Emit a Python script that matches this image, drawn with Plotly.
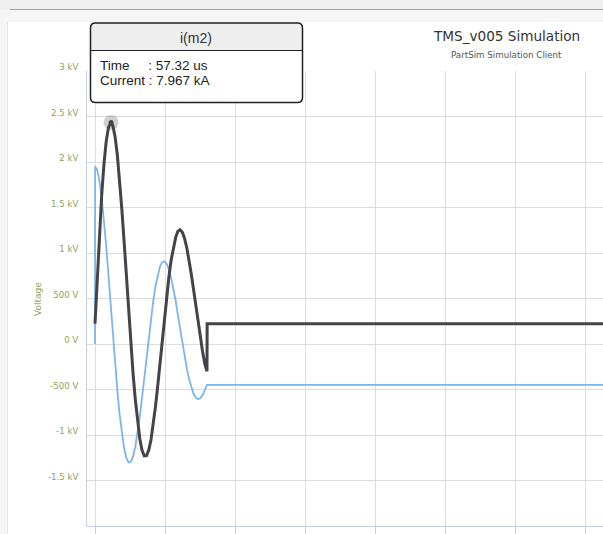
import plotly.graph_objects as go

# ---------------- data ----------------
t_voltage_us = [0, 0.5, 8, 16, 24, 32, 40, 48, 56, 64, 72, 80, 88, 96, 104, 112, 120, 128,
                136, 144, 152, 160, 168, 176, 184, 192, 200, 208, 216, 224, 232, 240, 248,
                256, 264, 272, 280, 288, 296, 304, 312, 320, 328, 336, 344, 352, 360, 368,
                376, 384, 392, 400, 2000]
voltage_v = [0, 1950, 1910, 1792, 1607, 1365, 1078, 760, 427, 92, -227, -518, -774, -985,
             -1146, -1252, -1301, -1294, -1235, -1129, -981, -798, -590, -367, -145, 75,
             285, 474, 635, 761, 850, 899, 908, 881, 818, 726, 610, 478, 317, 160, 5,
             -139, -271, -386, -478, -547, -590, -606, -596, -563, -508, -450, -450]

t_current_us = [0, 8, 16, 24, 32, 40, 48, 56, 57.32, 64, 72, 80, 88, 96, 104, 112, 120, 128,
                136, 144, 152, 160, 168, 176, 184, 192, 200, 208, 216, 224, 232, 240, 248,
                256, 264, 272, 280, 288, 296, 304, 312, 320, 328, 336, 344, 352, 360, 368,
                376, 384, 392, 400, 400.5, 2000]
current_ka = [0, 1.89, 3.62, 5.11, 6.32, 7.21, 7.76, 7.96, 7.967, 7.83, 7.38, 6.65, 5.68,
              4.52, 3.24, 1.88, 0.51, -0.79, -1.98, -3.00, -3.87, -4.55, -5.01, -5.23,
              -5.22, -5.00, -4.59, -4.00, -3.28, -2.46, -1.57, -0.67, 0.23, 1.09, 1.87,
              2.52, 3.04, 3.41, 3.66, 3.72, 3.62, 3.37, 3.00, 2.52, 1.96, 1.35, 0.72, 0.08,
              -0.53, -1.09, -1.57, -1.88, 0, 0]

x_ticks_us = [0, 250, 500, 750, 1000, 1250, 1500, 1750]
y_ticks_v = [-1500, -1000, -500, 0, 500, 1000, 1500, 2000, 2500, 3000]
y_tick_text = ["-1.5 kV", "-1 kV", "-500 V", "0 V", "500 V", "1 kV", "1.5 kV", "2 kV",
               "2.5 kV", "3 kV"]

title_text = "TMS_v005 Simulation"
subtitle_text = "PartSim Simulation Client"
tooltip_series = "i(m2)"

# ---------------- layout geometry ----------------
W, H = 603, 534
L, T, R, B = 87, 71, 0, 8
PW = W - L - R
PH = H - T - B


def px(x):
    return (x - L) / PW


def py(y):
    return 1 - (y - T) / PH


def rrect_path(x0, y0, x1, y1, r, top_only=False):
    rb = 0 if top_only else r
    pts = [
        ("M", [(x0 + r, y0)]),
        ("L", [(x1 - r, y0)]),
        ("Q", [(x1, y0), (x1, y0 + r)]),
        ("L", [(x1, y1 - rb)]),
        ("Q", [(x1, y1), (x1 - rb, y1)]),
        ("L", [(x0 + rb, y1)]),
        ("Q", [(x0, y1), (x0, y1 - rb)]),
        ("L", [(x0, y0 + r)]),
        ("Q", [(x0, y0), (x0 + r, y0)]),
    ]
    s = ""
    for cmd, ps in pts:
        s += cmd + " " + " ".join(f"{px(a):.5f},{py(b):.5f}" for a, b in ps) + " "
    return s + "Z"


LABEL_COLOR = "#94a158"
GRID = "#dcdcdc"
AXIS = "#c0d0e0"

fig = go.Figure()

fig.add_trace(go.Scatter(x=t_voltage_us, y=voltage_v, mode="lines",
                         line=dict(color="#7cb5ec", width=1.8), hoverinfo="skip"))

k = current_ka.index(max(current_ka))
fig.add_trace(go.Scatter(x=[t_current_us[k]], y=[current_ka[k]], yaxis="y2", mode="markers",
                         marker=dict(size=15, color="rgba(67,67,72,0.25)"), hoverinfo="skip"))
fig.add_trace(go.Scatter(x=t_current_us, y=current_ka, yaxis="y2", mode="lines",
                         line=dict(color="#434348", width=3), hoverinfo="skip"))
fig.add_trace(go.Scatter(x=[t_current_us[k]], y=[current_ka[k]], yaxis="y2", mode="markers",
                         marker=dict(size=5, color="#434348"), hoverinfo="skip"))

shapes = [
    dict(type="rect", xref="paper", yref="paper", x0=px(7), x1=px(W), y0=py(H), y1=py(22),
         fillcolor="white", line=dict(width=0), layer="below"),
    dict(type="line", xref="paper", yref="paper", x0=px(7.5), x1=px(7.5), y0=py(H), y1=py(22),
         line=dict(color="#e6e6e6", width=1), layer="below"),
    dict(type="rect", xref="paper", yref="paper", x0=px(0), x1=px(W), y0=py(9), y1=py(0),
         fillcolor="#efefef", line=dict(width=0), layer="below"),
    dict(type="line", xref="paper", yref="paper", x0=px(10), x1=px(W), y0=py(9.5), y1=py(9.5),
         line=dict(color="#a0a0a0", width=1), layer="below"),
    # tooltip
    dict(type="path", xref="paper", yref="paper", path=rrect_path(90.5, 23, 302.5, 102.5, 5),
         fillcolor="white", line=dict(width=0), layer="above"),
    dict(type="path", xref="paper", yref="paper",
         path=rrect_path(90.5, 23, 302.5, 50.5, 5, top_only=True),
         fillcolor="#eeeeee", line=dict(width=0), layer="above"),
    dict(type="line", xref="paper", yref="paper", x0=px(90.5), x1=px(302.5), y0=py(50.5),
         y1=py(50.5), line=dict(color="#222222", width=1), layer="above"),
    dict(type="path", xref="paper", yref="paper", path=rrect_path(90.5, 23, 302.5, 102.5, 5),
         fillcolor="rgba(0,0,0,0)", line=dict(color="#222222", width=1.5), layer="above"),
]

TT_FONT = "Liberation Sans, Arial, sans-serif"
NB = "\u00a0"
tooltip_body = (f'<span style="font-size:13.5px">Time{NB * 5}: {t_current_us[k]:.2f} us</span><br>'
                f'<span style="font-size:13.5px">Current : {current_ka[k]:.3f} kA</span>')

annotations = [
    dict(text=title_text, x=px(506), y=py(36), xref="paper", yref="paper", showarrow=False,
         xanchor="center", yanchor="middle",
         font=dict(family="DejaVu Sans", size=13.6, color="#333333")),
    dict(text=subtitle_text, x=px(506), y=py(55), xref="paper", yref="paper", showarrow=False,
         xanchor="center", yanchor="middle",
         font=dict(family="DejaVu Sans", size=8.7, color="#555555")),
    dict(text="Voltage", x=px(38), y=py(299), xref="paper", yref="paper", showarrow=False,
         xanchor="center", yanchor="middle", textangle=-90,
         font=dict(family="DejaVu Sans", size=9, color=LABEL_COLOR)),
    dict(text=tooltip_series, x=px(196), y=py(38), xref="paper", yref="paper", showarrow=False,
         xanchor="center", yanchor="middle", font=dict(family=TT_FONT, size=14, color="#333333")),
    dict(text=tooltip_body, x=px(98), y=py(73.5), xref="paper", yref="paper", showarrow=False,
         xanchor="left", yanchor="middle", align="left",
         font=dict(family=TT_FONT, size=11.8, color="#222222")),
]

fig.update_layout(
    width=W, height=H,
    margin=dict(l=L, r=R, t=T, b=B, pad=0),
    paper_bgcolor="#f5f5f5",
    plot_bgcolor="rgba(0,0,0,0)",
    showlegend=False,
    shapes=shapes,
    annotations=annotations,
    xaxis=dict(range=[-28.57, 1814.3], tickvals=x_ticks_us, showticklabels=False,
               ticks="outside", ticklen=8, tickcolor=AXIS, tickwidth=1,
               showgrid=True, gridcolor=GRID, gridwidth=1, showline=True, linecolor=AXIS,
               linewidth=1, zeroline=False, fixedrange=True),
    yaxis=dict(range=[-2000, 3000], tickvals=y_ticks_v, ticktext=y_tick_text,
               tickfont=dict(family="DejaVu Sans", size=8.6, color=LABEL_COLOR),
               showgrid=True, gridcolor=GRID, gridwidth=1, showline=True, linecolor=AXIS,
               linewidth=1, zeroline=False, ticks="", ticklabelshift=-4,
               ticklabelstandoff=6, fixedrange=True),
    yaxis2=dict(range=[-8, 10], overlaying="y", visible=False, fixedrange=True),
)

fig.write_html("out.html")
